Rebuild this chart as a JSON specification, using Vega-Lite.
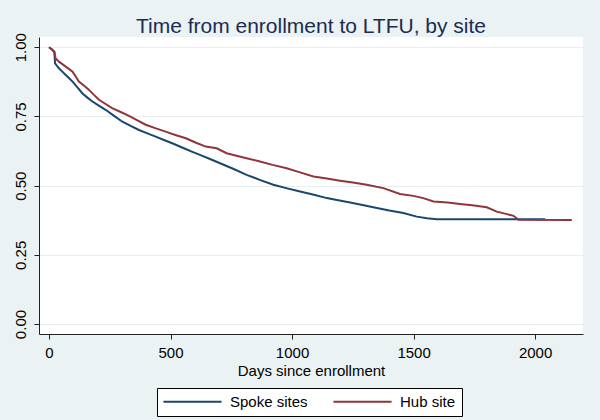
{
  "$schema": "https://vega.github.io/schema/vega-lite/v6.json",
  "width": 544,
  "height": 297,
  "autosize": {"type": "none"},
  "padding": {"left": 39, "top": 37, "right": 17, "bottom": 86},
  "background": "#eaf2f3",
  "title": {
    "text": "Time from enrollment to LTFU, by site",
    "anchor": "middle",
    "frame": "group",
    "font": "Liberation Sans",
    "fontSize": 21,
    "fontWeight": "normal",
    "color": "#1c2b52",
    "offset": -4
  },
  "config": {
    "view": {"fill": "white", "stroke": null},
    "font": "Liberation Sans",
    "axis": {
      "labelFont": "Liberation Sans",
      "titleFont": "Liberation Sans",
      "labelFontSize": 15,
      "titleFontSize": 15,
      "titleFontWeight": "normal",
      "labelColor": "#000000",
      "titleColor": "#000000",
      "domainColor": "#222222",
      "tickColor": "#222222",
      "tickSize": 5,
      "gridColor": "#e6eef0",
      "gridWidth": 1
    },
    "legend": {
      "labelFont": "Liberation Sans",
      "labelFontSize": 15,
      "labelColor": "#000000"
    }
  },
  "data": {
    "values": [
      {"site": "Spoke sites", "day": 0, "surv": 1.0},
      {"site": "Spoke sites", "day": 12, "surv": 0.992},
      {"site": "Spoke sites", "day": 22, "surv": 0.985},
      {"site": "Spoke sites", "day": 25, "surv": 0.942},
      {"site": "Spoke sites", "day": 41, "surv": 0.924},
      {"site": "Spoke sites", "day": 55, "surv": 0.912},
      {"site": "Spoke sites", "day": 69, "surv": 0.900},
      {"site": "Spoke sites", "day": 83, "surv": 0.888},
      {"site": "Spoke sites", "day": 97, "surv": 0.876},
      {"site": "Spoke sites", "day": 117, "surv": 0.855},
      {"site": "Spoke sites", "day": 137, "surv": 0.834},
      {"site": "Spoke sites", "day": 158, "surv": 0.818},
      {"site": "Spoke sites", "day": 179, "surv": 0.804},
      {"site": "Spoke sites", "day": 205, "surv": 0.789},
      {"site": "Spoke sites", "day": 233, "surv": 0.774},
      {"site": "Spoke sites", "day": 268, "surv": 0.752},
      {"site": "Spoke sites", "day": 302, "surv": 0.731},
      {"site": "Spoke sites", "day": 336, "surv": 0.716},
      {"site": "Spoke sites", "day": 370, "surv": 0.701},
      {"site": "Spoke sites", "day": 405, "surv": 0.689},
      {"site": "Spoke sites", "day": 439, "surv": 0.677},
      {"site": "Spoke sites", "day": 473, "surv": 0.665},
      {"site": "Spoke sites", "day": 507, "surv": 0.653},
      {"site": "Spoke sites", "day": 555, "surv": 0.635},
      {"site": "Spoke sites", "day": 590, "surv": 0.622},
      {"site": "Spoke sites", "day": 621, "surv": 0.611},
      {"site": "Spoke sites", "day": 660, "surv": 0.597},
      {"site": "Spoke sites", "day": 704, "surv": 0.581},
      {"site": "Spoke sites", "day": 760, "surv": 0.560},
      {"site": "Spoke sites", "day": 813, "surv": 0.539},
      {"site": "Spoke sites", "day": 870, "surv": 0.520},
      {"site": "Spoke sites", "day": 923, "surv": 0.503},
      {"site": "Spoke sites", "day": 980, "surv": 0.490},
      {"site": "Spoke sites", "day": 1033, "surv": 0.479},
      {"site": "Spoke sites", "day": 1090, "surv": 0.467},
      {"site": "Spoke sites", "day": 1143, "surv": 0.455},
      {"site": "Spoke sites", "day": 1190, "surv": 0.447},
      {"site": "Spoke sites", "day": 1239, "surv": 0.439},
      {"site": "Spoke sites", "day": 1295, "surv": 0.429},
      {"site": "Spoke sites", "day": 1349, "surv": 0.419},
      {"site": "Spoke sites", "day": 1400, "surv": 0.410},
      {"site": "Spoke sites", "day": 1458, "surv": 0.401},
      {"site": "Spoke sites", "day": 1513, "surv": 0.388},
      {"site": "Spoke sites", "day": 1555, "surv": 0.382},
      {"site": "Spoke sites", "day": 1595, "surv": 0.379},
      {"site": "Spoke sites", "day": 2041, "surv": 0.379},
      {"site": "Hub site", "day": 0, "surv": 1.0},
      {"site": "Hub site", "day": 12, "surv": 0.993},
      {"site": "Hub site", "day": 23, "surv": 0.98},
      {"site": "Hub site", "day": 27, "surv": 0.96},
      {"site": "Hub site", "day": 41, "surv": 0.948},
      {"site": "Hub site", "day": 55, "surv": 0.939},
      {"site": "Hub site", "day": 69, "surv": 0.930},
      {"site": "Hub site", "day": 83, "surv": 0.921},
      {"site": "Hub site", "day": 97, "surv": 0.912},
      {"site": "Hub site", "day": 110, "surv": 0.894},
      {"site": "Hub site", "day": 123, "surv": 0.876},
      {"site": "Hub site", "day": 145, "surv": 0.861},
      {"site": "Hub site", "day": 165, "surv": 0.846},
      {"site": "Hub site", "day": 185, "surv": 0.828},
      {"site": "Hub site", "day": 206, "surv": 0.81},
      {"site": "Hub site", "day": 233, "surv": 0.795},
      {"site": "Hub site", "day": 260, "surv": 0.78},
      {"site": "Hub site", "day": 295, "surv": 0.766},
      {"site": "Hub site", "day": 329, "surv": 0.752},
      {"site": "Hub site", "day": 364, "surv": 0.736},
      {"site": "Hub site", "day": 398, "surv": 0.72},
      {"site": "Hub site", "day": 440, "surv": 0.707},
      {"site": "Hub site", "day": 480, "surv": 0.695},
      {"site": "Hub site", "day": 520, "surv": 0.683},
      {"site": "Hub site", "day": 563, "surv": 0.671},
      {"site": "Hub site", "day": 605, "surv": 0.655},
      {"site": "Hub site", "day": 645, "surv": 0.641},
      {"site": "Hub site", "day": 690, "surv": 0.635},
      {"site": "Hub site", "day": 731, "surv": 0.617},
      {"site": "Hub site", "day": 800, "surv": 0.602},
      {"site": "Hub site", "day": 868, "surv": 0.587},
      {"site": "Hub site", "day": 920, "surv": 0.575},
      {"site": "Hub site", "day": 978, "surv": 0.563},
      {"site": "Hub site", "day": 1033, "surv": 0.548},
      {"site": "Hub site", "day": 1088, "surv": 0.533},
      {"site": "Hub site", "day": 1143, "surv": 0.526},
      {"site": "Hub site", "day": 1198, "surv": 0.518},
      {"site": "Hub site", "day": 1250, "surv": 0.511},
      {"site": "Hub site", "day": 1307, "surv": 0.503},
      {"site": "Hub site", "day": 1376, "surv": 0.491},
      {"site": "Hub site", "day": 1444, "surv": 0.47},
      {"site": "Hub site", "day": 1499, "surv": 0.463},
      {"site": "Hub site", "day": 1540, "surv": 0.455},
      {"site": "Hub site", "day": 1582, "surv": 0.443},
      {"site": "Hub site", "day": 1640, "surv": 0.439},
      {"site": "Hub site", "day": 1691, "surv": 0.434},
      {"site": "Hub site", "day": 1750, "surv": 0.428},
      {"site": "Hub site", "day": 1801, "surv": 0.422},
      {"site": "Hub site", "day": 1842, "surv": 0.406},
      {"site": "Hub site", "day": 1880, "surv": 0.398},
      {"site": "Hub site", "day": 1911, "surv": 0.391},
      {"site": "Hub site", "day": 1932, "surv": 0.377},
      {"site": "Hub site", "day": 2151, "surv": 0.376}
    ]
  },
  "mark": {"type": "line", "interpolate": "linear", "strokeWidth": 2},
  "encoding": {
    "x": {
      "field": "day",
      "type": "quantitative",
      "scale": {"domain": [-41, 2197], "nice": false, "zero": false},
      "axis": {
        "title": "Days since enrollment",
        "values": [0, 500, 1000, 1500, 2000],
        "format": "d",
        "grid": false,
        "labelPadding": 6,
        "titlePadding": 3
      }
    },
    "y": {
      "field": "surv",
      "type": "quantitative",
      "scale": {"domain": [-0.036, 1.037], "nice": false, "zero": false},
      "axis": {
        "title": null,
        "values": [0, 0.25, 0.5, 0.75, 1],
        "format": ".2f",
        "labelAngle": 270,
        "labelPadding": 6,
        "grid": true
      }
    },
    "color": {
      "field": "site",
      "type": "nominal",
      "sort": ["Spoke sites", "Hub site"],
      "scale": {"domain": ["Spoke sites", "Hub site"], "range": ["#1a476f", "#90353b"]},
      "legend": {
        "title": null,
        "orient": "none",
        "legendX": 118,
        "legendY": 351,
        "direction": "horizontal",
        "strokeColor": "#000000",
        "fillColor": "#ffffff",
        "padding": 6,
        "symbolType": "M-5,0H5",
        "symbolSize": 135,
        "symbolStrokeWidth": 2,
        "symbolOffset": 22,
        "labelOffset": 30,
        "columnPadding": 21
      }
    }
  }
}
